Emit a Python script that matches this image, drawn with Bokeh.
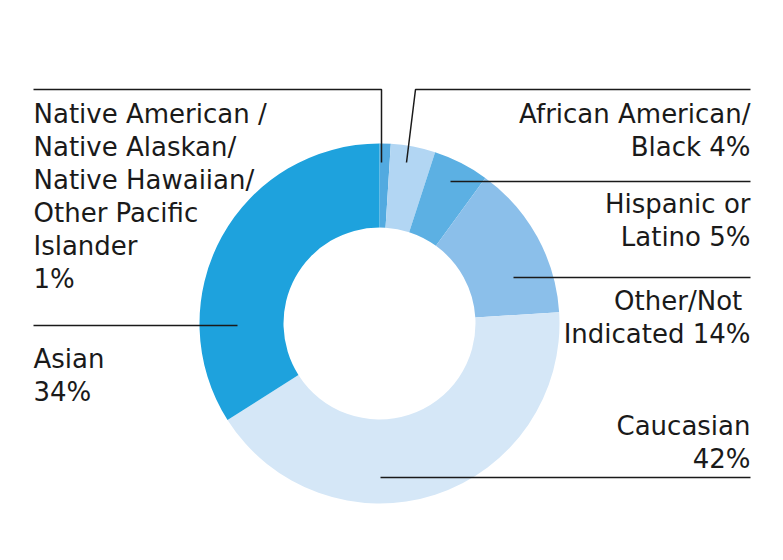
import math
from bokeh.plotting import figure
from bokeh.models import ColumnDataSource, Range1d
from bokeh.embed import file_html
from bokeh.resources import INLINE
from bokeh.core.properties import value

# Data (clockwise from 12 o'clock)
categories = ["Native American / Native Alaskan/ Native Hawaiian/ Other Pacific Islander",
              "African American/ Black", "Hispanic or Latino", "Other/Not Indicated",
              "Caucasian", "Asian"]
percents = [1, 4, 5, 14, 42, 34]
colors = ["#52aae0", "#b2d6f3", "#5cb0e3", "#8bbfea", "#d5e7f7", "#1ea2dd"]
label_lines = [
    ["Native American /", "Native Alaskan/", "Native Hawaiian/", "Other Pacific", "Islander", "1%"],
    ["African American/", "Black 4%"],
    ["Hispanic or", "Latino 5%"],
    ["Other/Not ", "Indicated 14%"],
    ["Caucasian", "42%"],
    ["Asian", "34%"],
]

W, H = 767, 544
def Y(sy):  # screen y -> data y
    return 560 - sy

p = figure(width=W, height=H, output_backend="svg", toolbar_location=None,
           x_range=Range1d(0, W), y_range=Range1d(16, 16 + H),
           min_border=0, outline_line_color=None)
p.axis.visible = False
p.grid.visible = False
p.background_fill_color = "white"
p.border_fill_color = "white"

cx, cy = 379, Y(323)
total = sum(percents)
starts, ends = [], []
acc = 0
for v in percents:
    a0 = math.pi / 2 - 2 * math.pi * acc / total
    acc += v
    a1 = math.pi / 2 - 2 * math.pi * acc / total
    starts.append(a1)
    ends.append(a0)

src = ColumnDataSource(dict(x=[cx] * len(percents), y=[cy] * len(percents),
                            start=starts, end=ends, color=colors, cat=categories))
p.annular_wedge(x="x", y="y", inner_radius=96, outer_radius=180,
                start_angle="start", end_angle="end", fill_color="color",
                line_color=None, source=src)

# Leader lines (screen coordinates)
leaders = [
    [(33, 89), (381, 89), (381, 162)],
    [(750, 89), (415, 89), (406, 162)],
    [(450, 181), (750, 181)],
    [(513, 277), (750, 277)],
    [(380, 477), (750, 477)],
    [(33, 325), (237, 325)],
]
for pts in leaders:
    p.line([q[0] for q in pts], [Y(q[1]) for q in pts], line_color="#1a1a1a", line_width=1.5)

# Labels: (x, first baseline, align)
anchors = [(33, 113, "left"), (750, 113, "right"), (750, 203, "right"),
           (750, 300, "right"), (750, 425, "right"), (33, 358, "left")]
pitch = 33
tx, ty, tt, ta = [], [], [], []
for lines, (x0, b0, al) in zip(label_lines, anchors):
    for i, ln in enumerate(lines):
        tx.append(x0)
        ty.append(Y(b0 + i * pitch))
        tt.append(ln)
        ta.append(al)
tsrc = ColumnDataSource(dict(x=tx, y=ty, t=tt, a=ta))
p.text(x="x", y="y", text="t", text_align="a", text_baseline="alphabetic",
       text_font=value("DejaVu Sans"), text_font_size="26px", text_color="#1a1a1a",
       source=tsrc)

open("out.html", "w").write(file_html(p, INLINE))
